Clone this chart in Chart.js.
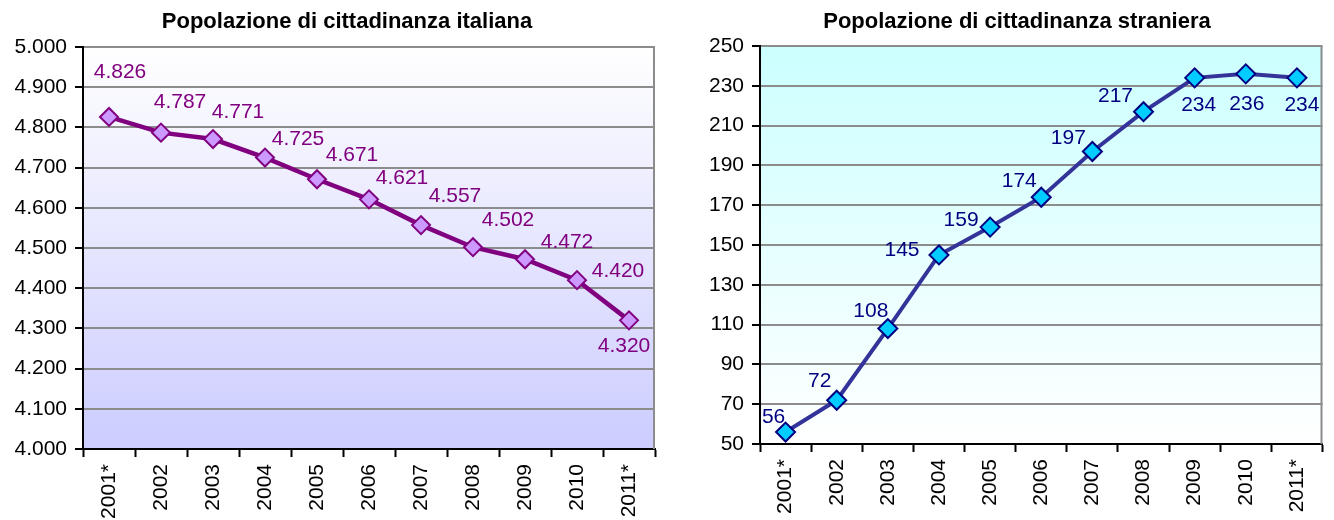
<!DOCTYPE html>
<html>
<head>
<meta charset="utf-8">
<script src="https://cdn.jsdelivr.net/npm/chart.js@4.4.0/dist/chart.umd.min.js"></script>
<style>
  body { margin: 0; background: #fff; width: 1334px; height: 520px; overflow: hidden; position: relative; }
  .box { position: absolute; top: 0; height: 520px; }
</style>
</head>
<body>
<div class="box" style="left:0;width:693px"><canvas id="cIta"></canvas></div>
<div class="box" style="left:700px;width:634px"><canvas id="cStr"></canvas></div>
<script>
// data
const years = ['2001*', '2002', '2003', '2004', '2005', '2006', '2007', '2008', '2009', '2010', '2011*'];
const italiani = [4826, 4787, 4771, 4725, 4671, 4621, 4557, 4502, 4472, 4420, 4320];
const stranieri = [56, 72, 108, 145, 159, 174, 197, 217, 234, 236, 234];
const titoloIta = 'Popolazione di cittadinanza italiana';
const titoloStr = 'Popolazione di cittadinanza straniera';

const FONT = '"Liberation Sans", Arial, sans-serif';

// 4826 -> "4.826"
const fmt = v => String(v).replace(/\B(?=(\d{3})+(?!\d))/g, '.');

// plot background gradient, right border of the plot area, title
const plotBg = {
  id: 'plotBg',
  beforeDraw(chart, args, opts) {
    const { ctx, chartArea: a } = chart;
    const g = ctx.createLinearGradient(0, a.top, 0, a.bottom);
    g.addColorStop(0, opts.top);
    g.addColorStop(1, opts.bottom);
    ctx.save();
    ctx.fillStyle = g;
    ctx.fillRect(a.left, a.top, a.right - a.left, a.bottom - a.top);
    ctx.font = 'bold 22px ' + FONT;
    ctx.fillStyle = '#000';
    ctx.textAlign = 'center';
    ctx.textBaseline = 'middle';
    ctx.fillText(opts.title, opts.titleX, 22);
    ctx.restore();
  },
  beforeDatasetsDraw(chart) {
    const { ctx, chartArea: a } = chart;
    ctx.save();
    ctx.strokeStyle = '#8c8c8c';
    ctx.lineWidth = 2;
    ctx.beginPath();
    ctx.moveTo(a.right - 1, a.top);
    ctx.lineTo(a.right - 1, a.bottom);
    ctx.stroke();
    ctx.restore();
  }
};

// value labels next to each point
const valueLabels = {
  id: 'valueLabels',
  afterDatasetsDraw(chart, args, opts) {
    const { ctx } = chart;
    const meta = chart.getDatasetMeta(0);
    const data = chart.data.datasets[0].data;
    ctx.save();
    ctx.font = '21px ' + FONT;
    ctx.fillStyle = opts.color;
    ctx.textAlign = 'center';
    ctx.textBaseline = 'middle';
    meta.data.forEach((pt, i) => {
      const [dx, dy] = opts.offsets[i];
      ctx.fillText(fmt(data[i]), pt.x + dx, pt.y + dy);
    });
    ctx.restore();
  }
};

function makeChart(id, o) {
  return new Chart(document.getElementById(id), {
    type: 'line',
    data: {
      labels: years,
      datasets: [{
        data: o.values,
        borderColor: o.line,
        borderWidth: o.lineWidth,
        tension: 0,
        pointStyle: 'rectRot',
        pointRadius: o.radius,
        pointBackgroundColor: o.fill,
        pointBorderColor: o.mark,
        pointBorderWidth: 2,
        clip: false
      }]
    },
    options: {
      responsive: true,
      maintainAspectRatio: false,
      animation: false,
      events: [],
      layout: { padding: { left: 0, right: o.padRight, top: o.top, bottom: 0 } },
      plugins: {
        legend: { display: false },
        tooltip: { enabled: false },
        title: { display: false },
        plotBg: { top: o.bgTop, bottom: o.bgBottom, title: o.title, titleX: o.titleX },
        valueLabels: { color: o.labelColor, offsets: o.offsets }
      },
      scales: {
        x: {
          offset: true,
          afterFit: s => { s.height = o.xHeight; },
          grid: { display: true, drawOnChartArea: false, drawTicks: true, tickLength: 8, tickColor: '#000', tickWidth: 2, offset: true },
          border: { display: true, color: '#000', width: 2 },
          ticks: { color: '#000', font: { family: FONT, size: 21 }, minRotation: 90, maxRotation: 90, padding: 7, autoSkip: false }
        },
        y: {
          min: o.min,
          max: o.max,
          afterFit: s => { s.width = o.yWidth; },
          grid: { color: '#8c8c8c', lineWidth: 2, tickLength: 8, tickColor: '#000', tickWidth: 2 },
          border: { display: true, color: '#000', width: 2 },
          ticks: { stepSize: o.step, color: '#000', font: { family: FONT, size: 21 }, padding: 8, callback: v => fmt(v) }
        }
      }
    },
    plugins: [plotBg, valueLabels]
  });
}

makeChart('cIta', {
  values: italiani, title: titoloIta, titleX: 347,
  min: 4000, max: 5000, step: 100,
  line: '#800080', lineWidth: 4.5, mark: '#800080', fill: '#cc99ff', radius: 9,
  labelColor: '#800080',
  bgTop: '#ffffff', bgBottom: '#ccccff',
  yWidth: 83, xHeight: 71, padRight: 38, top: 47,
  offsets: [[11, -45], [19, -30], [25, -27], [33, -18], [35, -24], [33, -21], [34, -29], [35, -27], [42, -17], [41, -9], [-5, 26]]
});

makeChart('cStr', {
  values: stranieri, title: titoloStr, titleX: 317,
  min: 50, max: 250, step: 20,
  line: '#333399', lineWidth: 4, mark: '#000080', fill: '#00ccff', radius: 9.5,
  labelColor: '#000080',
  bgTop: '#ccffff', bgBottom: '#ffffff',
  yWidth: 60, xHeight: 76, padRight: 1, top: 46,
  offsets: [[-12, -15], [-17, -19], [-17, -17], [-37, -5], [-29, -7], [-22, -16], [-24, -13], [-28, -15], [4, 27], [1, 30], [5, 27]]
});
</script>
</body>
</html>
